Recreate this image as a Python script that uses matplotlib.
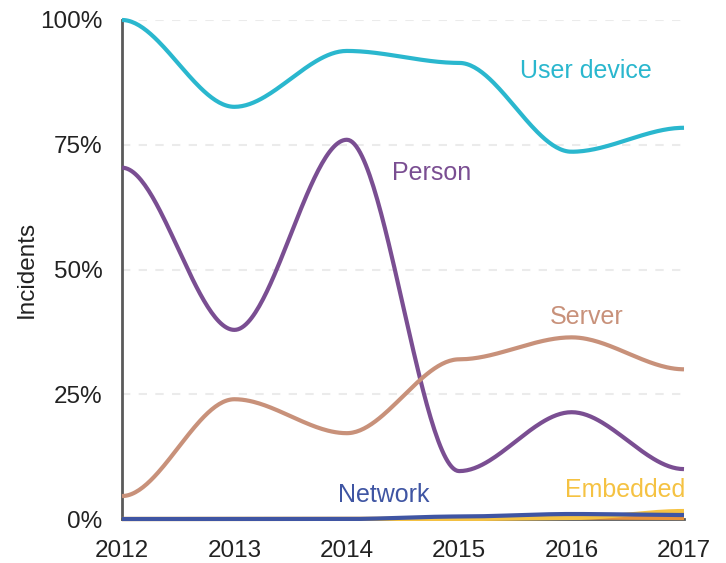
import numpy as np
import matplotlib
matplotlib.use("Agg")
import matplotlib.pyplot as plt

years = [2012, 2013, 2014, 2015, 2016, 2017]
user_device = [100, 82.6, 93.8, 91.4, 73.6, 78.4]
person = [70.4, 37.9, 76.0, 9.6, 21.4, 10.0]
server = [4.6, 24.0, 17.2, 32.0, 36.4, 30.0]
network = [0.0, 0.0, 0.0, 0.5, 1.0, 0.8]
embedded = [0.0, 0.0, 0.0, 0.0, 0.2, 1.6]
other = [0.0, 0.0, 0.0, 0.1, 0.3, 0.2]

series = [
    ("User device", user_device, "#2AB7CE"),
    ("Person", person, "#7A4E92"),
    ("Server", server, "#C8917A"),
    ("Other", other, "#E8923A"),
    ("Embedded", embedded, "#F5C242"),
    ("Network", network, "#3F55A3"),
]

labels = {
    "User device": (2015.54, 89.7),
    "Person": (2014.40, 69.4),
    "Server": (2015.81, 40.4),
    "Network": (2013.92, 4.8),
    "Embedded": (2015.94, 5.8),
}


def smooth(xs, ys, n=60):
    xs = np.asarray(xs, float)
    ys = np.asarray(ys, float)
    out_x, out_y = [], []
    for i in range(len(xs) - 1):
        t = np.linspace(0, 1, n)
        h = 3 * t**2 - 2 * t**3
        out_x.append(xs[i] + (xs[i + 1] - xs[i]) * t)
        out_y.append(ys[i] + (ys[i + 1] - ys[i]) * h)
    return np.concatenate(out_x), np.concatenate(out_y)


plt.rcParams["font.family"] = ["Liberation Sans", "DejaVu Sans"]
fig = plt.figure(figsize=(7.26, 5.63), dpi=100)
ax = fig.add_axes([122 / 726, 44 / 563, 562 / 726, 499 / 563])

for name, vals, col in series:
    sx, sy = smooth(years, vals)
    ax.plot(sx, sy, color=col, lw=3.0, solid_capstyle="butt", clip_on=False, zorder=3)

for name, (lx, ly) in labels.items():
    col = [c for n, v, c in series if n == name][0]
    ax.text(lx, ly, name, color=col, fontsize=18, ha="left", va="center")

ax.set_xlim(2012, 2017)
ax.set_ylim(0, 100)
ax.set_yticks([0, 25, 50, 75, 100])
ax.set_yticklabels(["0%", "25%", "50%", "75%", "100%"])
ax.set_xticks(years)
ax.set_xticklabels([str(y) for y in years])
ax.tick_params(length=0, labelsize=17.5, colors="#222222")
ax.tick_params(axis="y", pad=14)
ax.tick_params(axis="x", pad=15)
for y in [25, 50, 75, 100]:
    ax.axhline(y, color="#EBEBEB", lw=1.5, ls=(0, (4, 4)), zorder=1)
for s in ["top", "right"]:
    ax.spines[s].set_visible(False)
for s in ["left", "bottom"]:
    ax.spines[s].set_color("#5A5A5A")
    ax.spines[s].set_linewidth(2)
ax.set_ylabel("Incidents", fontsize=17.5, color="#222222", labelpad=2)

fig.savefig("out.png", dpi=100)
